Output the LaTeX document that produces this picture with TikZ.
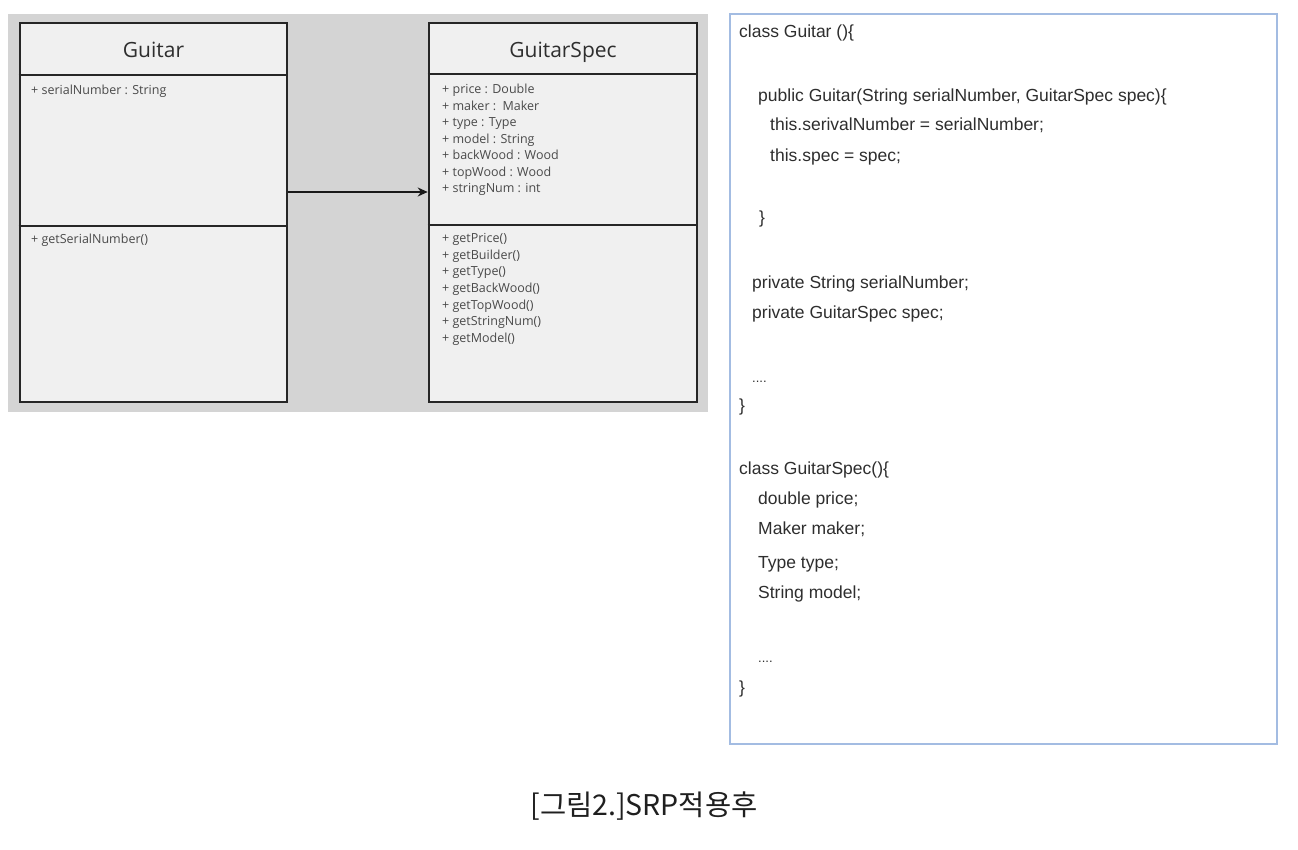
\documentclass[tikz,border=0pt]{standalone}
\usepackage{fontspec}
\setmainfont{Open Sans}
\newfontfamily\umlfont{Open Sans}
\newfontfamily\codefont{Liberation Sans}
\newfontfamily\krfont{Noto Sans CJK KR}
\usetikzlibrary{arrows.meta}
\definecolor{bggray}{HTML}{D4D4D4}
\definecolor{boxfill}{HTML}{F0F0F0}
\definecolor{codeblue}{HTML}{A3BCE2}
\definecolor{txt}{HTML}{2E2E2E}
\definecolor{smalltxt}{HTML}{4A4A4A}
\begin{document}
\begin{tikzpicture}[x=1pt,y=-1pt,
  umlbox/.style={draw=black!85, line width=2.6pt, fill=boxfill, inner sep=0pt},
  divider/.style={draw=black!85, line width=2.6pt},
  umltitle/.style={anchor=base, inner sep=0pt, font=\umlfont\fontsize{21}{25}\selectfont, text=txt},
  member/.style={anchor=base west, inner sep=0pt, font=\umlfont\fontsize{12.5}{15}\selectfont, text=smalltxt},
  codeline/.style={anchor=base west, inner sep=0pt, font=\codefont\fontsize{17.5}{21}\selectfont, text=txt},
  dots/.style={anchor=base west, inner sep=0pt, font=\codefont\fontsize{13}{15}\selectfont, text=txt},
  codebox/.style={draw=codeblue, line width=2pt, fill=white, inner sep=0pt},
  assoc/.style={draw=black!90, line width=2.2pt, -{Stealth[length=10pt,width=9pt]}}
]
\useasboundingbox (0,0) rectangle (1298,850);
\fill[white] (0,0) rectangle (1298,850);
% gray background of the UML area
\fill[bggray] (8,14) rectangle (708,412);

% Guitar class
\node[umlbox, minimum width=267pt, minimum height=379pt] (guitar) at (153.5,212.5) {};
\draw[divider] (guitar.west |- 0,75) -- (guitar.east |- 0,75);
\draw[divider] (guitar.west |- 0,226) -- (guitar.east |- 0,226);
\node[umltitle] (gtitle) at (153.5,58) {Guitar};
\node[member] (gattr) at (31,95) {+ serialNumber : String};
\node[member] (gmeth) at (31,244) {+ getSerialNumber()};

% GuitarSpec class
\node[umlbox, minimum width=268pt, minimum height=379pt] (spec) at (563,212.5) {};
\draw[divider] (spec.west |- 0,74) -- (spec.east |- 0,74);
\draw[divider] (spec.west |- 0,225) -- (spec.east |- 0,225);
\node[umltitle] (stitle) at (563,58) {GuitarSpec};
\foreach \t [count=\i from 0] in {+ price : Double, + maker :\ \ Maker, + type : Type, + model : String, + backWood : Wood, + topWood : Wood, + stringNum : int}
  \node[member] (sa\i) at (442,94+16.5*\i) {\t};
\foreach \t [count=\i from 0] in {+ getPrice(), + getBuilder(), + getType(), + getBackWood(), + getTopWood(), + getStringNum(), + getModel()}
  \node[member] (sm\i) at (442,243+16.5*\i) {\t};

% association arrow
\coordinate (arrowy) at (0,192);
\draw[assoc] (guitar.east |- arrowy) -- (spec.west |- arrowy);

% code box
\node[codebox, minimum width=547pt, minimum height=730pt] (code) at (1003.5,379) {};
\node[codeline] (c1) at (739,38) {class Guitar ()\{};
\node[codeline] (c2) at (758,102) {public Guitar(String serialNumber, GuitarSpec spec)\{};
\node[codeline] (c3) at (770,131) {this.serivalNumber = serialNumber;};
\node[codeline] (c4) at (770,162) {this.spec = spec;};
\node[codeline] (c5) at (759,224) {\}};
\node[codeline] (c6) at (752,288) {private String serialNumber;};
\node[codeline] (c7) at (752,318) {private GuitarSpec spec;};
\node[dots] (c8) at (752,382) {....};
\node[codeline] (c9) at (739,411) {\}};
\node[codeline] (c10) at (739,474) {class GuitarSpec()\{};
\node[codeline] (c11) at (758,504) {double price;};
\node[codeline] (c12) at (758,534) {Maker maker;};
\node[codeline] (c13) at (758,568) {Type type;};
\node[codeline] (c14) at (758,598) {String model;};
\node[dots] (c15) at (758,662) {....};
\node[codeline] (c16) at (739,693) {\}};

% caption
\node[inner sep=0pt, font=\krfont\fontsize{28.5}{32}\selectfont, text=black!88] (caption) at (644,806) {[그림2.]SRP적용후};
\end{tikzpicture}
\end{document}
